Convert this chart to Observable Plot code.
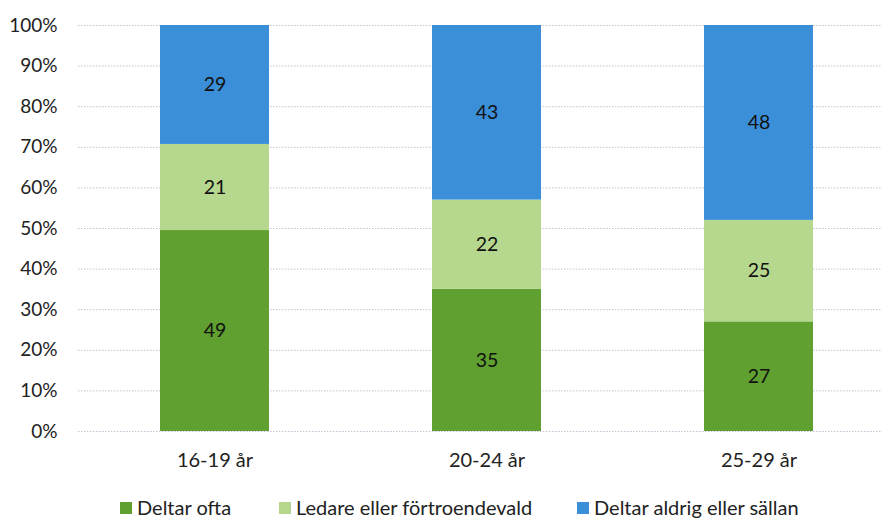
<!DOCTYPE html>
<html>
<head>
<meta charset="utf-8">
<script src="https://cdn.jsdelivr.net/npm/d3@7"></script>
<script src="https://cdn.jsdelivr.net/npm/@observablehq/plot@0.6"></script>
<style>
  body { margin: 0; background: #fff; font-family: Lato, "Open Sans", sans-serif; }
  #chart { width: 882px; height: 519px; overflow: hidden; position: relative; }
  .legend { position: absolute; top: 495px; left: 0; width: 882px; height: 24px; font-size: 20px; color: #222; }
  .legend span.item { position: absolute; top: 0; white-space: nowrap; }
  .legend i { display: inline-block; width: 12px; height: 12px; margin-right: 5px; vertical-align: 1px; }
</style>
</head>
<body>
<div id="chart"></div>
<script>
const categories = ["16-19 år", "20-24 år", "25-29 år"];
const series = ["Deltar ofta", "Ledare eller förtroendevald", "Deltar aldrig eller sällan"];
const deltarOfta = [49, 35, 27];
const ledare = [21, 22, 25];
const deltarAldrig = [29, 43, 48];
const yTicks = [0, 10, 20, 30, 40, 50, 60, 70, 80, 90, 100];
const colors = ["#5fa030", "#b6d88e", "#3b8fd8"];

const values = [deltarOfta, ledare, deltarAldrig];
const data = [];
series.forEach((s, si) => categories.forEach((c, ci) => data.push({category: c, series: s, value: values[si][ci]})));
const yTickFracs = yTicks.map(d => d / 100);

const plot = Plot.plot({
  width: 882,
  height: 480,
  marginLeft: 78,
  marginRight: -12,
  marginTop: 25,
  marginBottom: 49,
  style: {fontFamily: "Lato, 'Open Sans', sans-serif", fontSize: "19px", color: "#222", background: "#fff"},
  x: {domain: categories, paddingInner: 0.6, paddingOuter: 0.3, label: null},
  y: {domain: [0, 1], label: null},
  color: {domain: series, range: colors},
  marks: [
    Plot.ruleY(yTickFracs, {stroke: "#c2c2d2", strokeDasharray: "1.5,1.5", strokeWidth: 1}),
    Plot.barY(data, Plot.stackY({x: "category", y: "value", fill: "series", z: "series", order: series, offset: "normalize"})),
    Plot.text(data, Plot.stackY({x: "category", y: "value", z: "series", order: series, offset: "normalize", text: d => String(d.value), fill: "#111", fontSize: 19.5})),
    Plot.axisX({tickSize: 0, tickPadding: 21, fontSize: 20}),
    Plot.axisY({ticks: yTickFracs, tickSize: 0, tickPadding: 21, tickFormat: d => Math.round(d * 100) + "%", fontSize: 19})
  ]
});
document.getElementById("chart").appendChild(plot);

const legend = document.createElement("div");
legend.className = "legend";
const lefts = [120, 279, 577];
series.forEach((s, i) => {
  const item = document.createElement("span");
  item.className = "item";
  item.style.left = lefts[i] + "px";
  item.innerHTML = `<i style="background:${colors[i]}"></i>${s}`;
  legend.appendChild(item);
});
document.getElementById("chart").appendChild(legend);
</script>
</body>
</html>
